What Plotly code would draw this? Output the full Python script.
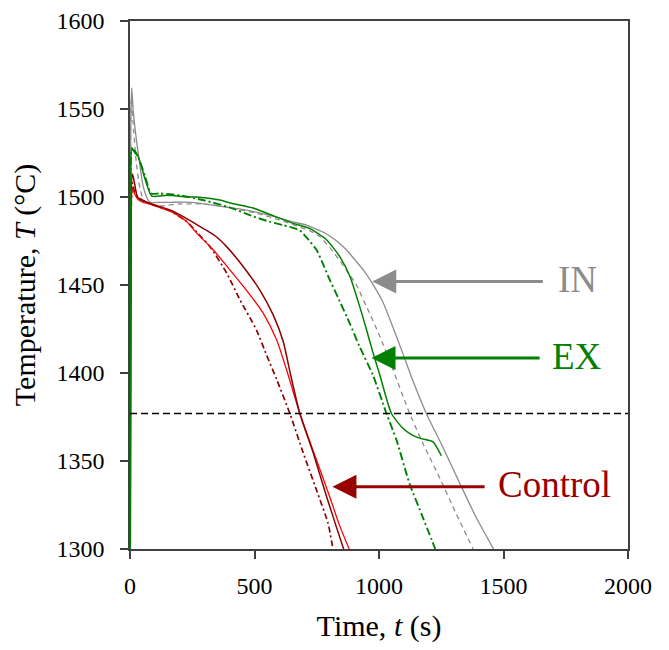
import plotly.graph_objects as go

# ---------------- data ----------------
# IN, solid (grey)
in_solid_t = [0, 3, 7, 13, 27, 40, 53, 70, 81, 120, 161, 250, 350, 450, 550, 650, 709, 760, 789,
              830, 869, 905, 940, 975, 1015, 1056, 1096, 1135, 1190, 1256, 1324, 1390, 1460]
in_solid_T = [1200, 1540, 1562, 1549, 1531, 1518, 1506, 1499, 1497, 1497, 1497, 1497, 1495, 1493,
              1490, 1486, 1484, 1481, 1479, 1475, 1470, 1464, 1458, 1450.5, 1440.5, 1426,
              1411, 1396, 1377, 1358, 1337.5, 1318, 1300]
# IN, dashed (grey)
in_dash_t = [0, 3, 6, 12, 25, 40, 55, 75, 120, 200, 300, 400, 500, 600, 680, 720, 762, 815, 869,
             909, 949, 1003, 1056, 1123, 1180, 1245, 1310, 1378]
in_dash_T = [1200, 1545, 1556, 1543, 1520, 1505, 1498, 1496, 1495, 1496, 1496, 1494, 1491, 1487,
             1483, 1481, 1477.5, 1469, 1458.5, 1450, 1438, 1421, 1402, 1377, 1359, 1340,
             1320, 1300]
# EX, solid (green)
ex_solid_t = [0, 3, 7, 20, 33, 61, 88, 150, 228, 268, 361, 402, 494, 535, 600, 655, 723, 790,
              843, 883, 922, 949, 975, 1003, 1050, 1095, 1130, 1163, 1216, 1235, 1250]
ex_solid_T = [1200, 1510, 1528, 1525, 1523, 1510, 1500.5, 1501, 1500, 1500, 1498.3, 1496.6,
              1493.7, 1491.6, 1488, 1485, 1482, 1475.6, 1466, 1455, 1438, 1425, 1412,
              1399, 1377, 1368.7, 1365, 1363, 1361, 1357, 1353]
# EX, dash-dot (green)
ex_dash_t = [0, 3, 7, 20, 35, 60, 85, 120, 200, 300, 402, 494, 560, 615, 682, 709, 749, 775,
             802, 835, 883, 922, 975, 1030, 1070, 1123, 1176, 1226]
ex_dash_T = [1200, 1515, 1527, 1526, 1522, 1512, 1502, 1502, 1501, 1498, 1494, 1489, 1486, 1484,
             1481, 1477, 1470, 1462, 1453, 1443, 1428, 1415, 1399, 1377, 1362,
             1337, 1318, 1300]
# Control, solid (dark red)
ctl_dark_t = [0, 4, 10, 18, 30, 50, 81, 120, 161, 214, 260, 308, 350, 388, 455, 522, 575, 615,
              645, 682, 736, 789, 830, 858]
ctl_dark_T = [1200, 1495, 1513, 1508, 1500, 1498, 1496.4, 1494.5, 1492.6, 1488.8, 1485, 1481,
              1477, 1471.8, 1460.4, 1447, 1433, 1418, 1399, 1377, 1354.5, 1330, 1312, 1300]
# Control, solid (red)
ctl_red_t = [0, 4, 10, 18, 30, 50, 81, 120, 161, 200, 228, 268, 334, 402, 468, 535, 589, 629,
             682, 749, 802, 840, 880]
ctl_red_T = [1200, 1490, 1505, 1502, 1499, 1497, 1496, 1494, 1492, 1489, 1486, 1479.5, 1470,
             1458.5, 1447, 1434, 1418.7, 1401.7, 1377, 1350.6, 1329.7, 1314, 1300]
# Control, dash-dot (dark red)
ctl_dash_t = [0, 4, 10, 20, 40, 81, 161, 228, 268, 321, 388, 442, 508, 549, 590, 642, 696, 749,
              795, 815]
ctl_dash_T = [1200, 1490, 1508, 1502, 1499, 1496, 1492, 1486, 1480, 1471.8, 1456.8, 1441.5,
              1424.4, 1410, 1396, 1377, 1354.5, 1333.5, 1314.8, 1300]

threshold_T = 1377

x_ticks = [0, 500, 1000, 1500, 2000]
y_ticks = [1300, 1350, 1400, 1450, 1500, 1550, 1600]

# arrow labels
label_names = ["IN", "EX", "Control"]
label_T = [1452, 1408.5, 1335.4]
label_tip_t = [973, 970, 813]
label_tail_t = [1664, 1651, 1430]
label_text_t = [1711, 1687, 1470]

# ---------------- styling ----------------
GREY = "#8c8c8c"
GREEN = "#008000"
DARKRED = "#8b0000"
RED = "#ff0000"
label_colors = [GREY, GREEN, "#990000"]
FONT = "Liberation Serif, Times New Roman, serif"

fig = go.Figure()

series = [
    (in_solid_t, in_solid_T, GREY, "solid", 1.3),
    (in_dash_t, in_dash_T, GREY, "5px,4px", 1.3),
    (ctl_dash_t, ctl_dash_T, DARKRED, "6px,3px,2px,3px", 1.7),
    (ctl_red_t, ctl_red_T, RED, "solid", 1.3),
    (ctl_dark_t, ctl_dark_T, DARKRED, "solid", 1.5),
    (ex_dash_t, ex_dash_T, GREEN, "8px,3px,2px,3px", 1.9),
    (ex_solid_t, ex_solid_T, GREEN, "solid", 1.5),
]
for t, T, c, d, w in series:
    fig.add_trace(go.Scatter(x=t, y=T, mode="lines",
                             line=dict(color=c, dash=d, width=w, shape="spline", smoothing=0.6),
                             showlegend=False, hoverinfo="skip"))

fig.add_trace(go.Scatter(x=[x_ticks[0], x_ticks[-1]], y=[threshold_T, threshold_T],
                         mode="lines", line=dict(color="black", dash="7px,4px", width=1.3),
                         showlegend=False, hoverinfo="skip"))

for name, T, tip, tail, tx, col in zip(label_names, label_T, label_tip_t, label_tail_t,
                                       label_text_t, label_colors):
    fig.add_annotation(x=tip, y=T, ax=tail, ay=T, xref="x", yref="y", axref="x", ayref="y",
                       text="", showarrow=True, arrowhead=2, arrowsize=1.6, arrowwidth=3,
                       arrowcolor=col)
    fig.add_annotation(x=tx, y=T, xref="x", yref="y", text=name, showarrow=False,
                       xanchor="left", yanchor="middle", yshift=2,
                       font=dict(family=FONT, size=37, color=col))

axis_common = dict(showline=True, mirror=True, linecolor="#404040", linewidth=1.5,
                   ticks="outside", ticklen=8, tickcolor="#404040", tickwidth=1.5,
                   showgrid=False, zeroline=False,
                   tickfont=dict(family=FONT, size=24, color="black"))

fig.update_xaxes(range=[0, 2000], tickvals=x_ticks, ticktext=[str(v) for v in x_ticks],
                 title=dict(text="Time, <i>t</i> (s)", font=dict(family=FONT, size=30, color="black"),
                            standoff=17),
                 ticklabelstandoff=6,
                 **axis_common)
fig.update_yaxes(range=[1300, 1600], tickvals=y_ticks, ticktext=[str(v) for v in y_ticks],
                 title=dict(text="Temperature, <i>T</i> (°C)",
                            font=dict(family=FONT, size=30, color="black"), standoff=12),
                 ticklabelstandoff=11,
                 **axis_common)

fig.update_layout(width=661, height=642, margin=dict(l=122, r=41, t=13, b=101, autoexpand=False),
                  plot_bgcolor="white", paper_bgcolor="white")

fig.write_html("out.html")
